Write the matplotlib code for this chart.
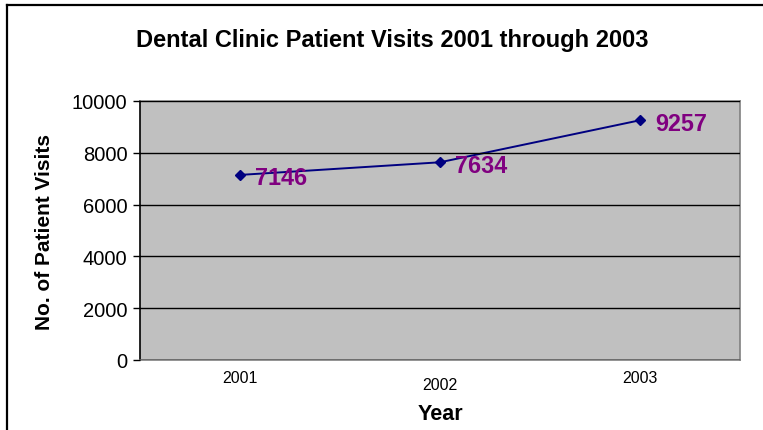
import matplotlib
matplotlib.use('Agg')
import matplotlib.pyplot as plt
from matplotlib.lines import Line2D

plt.rcParams['font.family'] = ['Liberation Sans', 'DejaVu Sans']

years = ['2001', '2002', '2003']
visits = [7146, 7634, 9257]
y_ticks = [0, 2000, 4000, 6000, 8000, 10000]

W, H = 763, 431
fig = plt.figure(figsize=(W / 100, H / 100), dpi=100)

# plot area in pixels: x 140..740, y 102..361
ax = fig.add_axes([140 / W, 1 - 361 / H, 600 / W, 259 / H])
ax.set_facecolor('#C0C0C0')

x = list(range(len(years)))
ax.plot(x, visits, color='#000080', lw=1.4, marker='D', ms=5.5, mfc='#000080', mec='#000080')

for xi, v in zip(x, visits):
	ax.annotate(str(v), (xi, v), xytext=(11, -2), textcoords='offset points',
		ha='left', va='center', fontsize=16.8, fontweight='bold', color='#800080')

ax.set_xlim(-0.5, len(years) - 0.5)
ax.set_ylim(0, 10000)
ax.set_yticks(y_ticks)
ax.set_yticklabels([str(t) for t in y_ticks], fontsize=14.5)
ax.tick_params(axis='y', direction='out', length=5, width=1, color='black', pad=4)
ax.yaxis.grid(True, color='black', lw=1)
ax.set_axisbelow(False)

# staggered category labels like excel does
ax.set_xticks([])
for i, yr in enumerate(years):
	dy = -12.5 if i % 2 == 0 else -17.5
	ax.annotate(yr, (i, 0), xytext=(0, dy), textcoords='offset points',
		ha='center', va='center', fontsize=11.5, annotation_clip=False)

for s in ['top', 'right', 'bottom']:
	ax.spines[s].set_color('#808080')
	ax.spines[s].set_linewidth(1.2)
ax.spines['left'].set_color('black')
ax.spines['left'].set_linewidth(1.2)

fig.text(440 / W, 1 - 415 / H, 'Year', ha='center', va='center', fontsize=15.5, fontweight='bold')
fig.text(45 / W, 1 - 232 / H, 'No. of Patient Visits', ha='center', va='center',
	rotation=90, fontsize=15, fontweight='bold')
fig.text(392 / W, 1 - 40 / H, 'Dental Clinic Patient Visits 2001 through 2003',
	ha='center', va='center', fontsize=17, fontweight='bold')

# chart border (only top and left visible, rest cropped)
fig.add_artist(Line2D([7 / W, 1], [1 - 6 / H, 1 - 6 / H], transform=fig.transFigure, color='black', lw=1.6))
fig.add_artist(Line2D([7 / W, 7 / W], [0, 1 - 6 / H], transform=fig.transFigure, color='black', lw=1.6))

fig.savefig('out.png', dpi=100)
